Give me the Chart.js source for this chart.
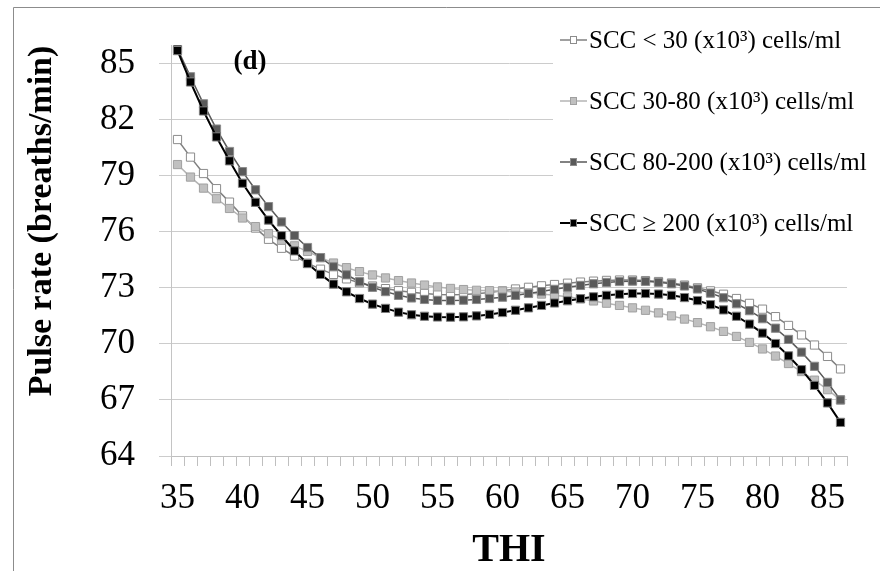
<!DOCTYPE html>
<html>
<head>
<meta charset="utf-8">
<script src="https://cdn.jsdelivr.net/npm/chart.js@4.4.1/dist/chart.umd.min.js"></script>
<style>
  html, body { margin: 0; padding: 0; background: #fff; }
  #wrap { position: relative; width: 880px; height: 571px; }
</style>
</head>
<body>
<div id="wrap"><canvas id="chart" width="880" height="571"></canvas></div>
<script>
const thi = [35, 36, 37, 38, 39, 40, 41, 42, 43, 44, 45, 46, 47, 48, 49, 50, 51, 52, 53, 54, 55, 56, 57, 58, 59, 60,
    61, 62, 63, 64, 65, 66, 67, 68, 69, 70, 71, 72, 73, 74, 75, 76, 77, 78, 79, 80, 81, 82, 83, 84, 85, 86];

const sccUnder30 = [80.94, 80.0, 79.12, 78.31, 77.59, 76.85, 76.2, 75.6, 75.12, 74.7, 74.32, 74.0, 73.72, 73.48, 73.27, 73.1,
    72.96, 72.85, 72.76, 72.7, 72.65, 72.63, 72.64, 72.68, 72.75, 72.84, 72.94, 73.03, 73.11, 73.18, 73.25, 73.31,
    73.36, 73.4, 73.42, 73.42, 73.39, 73.34, 73.26, 73.15, 73.0, 72.84, 72.66, 72.43, 72.17, 71.86, 71.46, 70.99,
    70.48, 69.94, 69.33, 68.66];
const scc30to80 = [79.6, 78.93, 78.34, 77.77, 77.25, 76.74, 76.28, 75.9, 75.55, 75.25, 74.95, 74.62, 74.33, 74.08, 73.87, 73.69,
    73.53, 73.39, 73.26, 73.15, 73.05, 72.97, 72.91, 72.87, 72.85, 72.82, 72.78, 72.73, 72.67, 72.6, 72.52, 72.42,
    72.3, 72.18, 72.06, 71.93, 71.8, 71.66, 71.5, 71.33, 71.14, 70.92, 70.67, 70.4, 70.08, 69.73, 69.35, 68.95,
    68.52, 68.06, 67.55, 67.0];
const scc80to200 = [85.8, 84.3, 82.85, 81.5, 80.3, 79.22, 78.25, 77.35, 76.53, 75.8, 75.16, 74.62, 74.13, 73.7, 73.33, 73.03,
    72.8, 72.6, 72.46, 72.38, 72.33, 72.32, 72.34, 72.38, 72.43, 72.5, 72.6, 72.7, 72.8, 72.92, 73.03, 73.13,
    73.22, 73.29, 73.34, 73.36, 73.35, 73.3, 73.22, 73.1, 72.94, 72.72, 72.47, 72.15, 71.78, 71.35, 70.84, 70.24,
    69.56, 68.8, 67.94, 67.0];
const sccOver200 = [85.7, 84.02, 82.47, 81.08, 79.8, 78.6, 77.58, 76.63, 75.79, 74.98, 74.3, 73.72, 73.2, 72.79, 72.43, 72.13,
    71.9, 71.7, 71.56, 71.48, 71.44, 71.43, 71.45, 71.5, 71.58, 71.68, 71.8, 71.93, 72.06, 72.19, 72.31, 72.42,
    72.52, 72.6, 72.66, 72.7, 72.7, 72.67, 72.6, 72.48, 72.32, 72.1, 71.82, 71.48, 71.06, 70.58, 70.02, 69.36,
    68.62, 67.78, 66.84, 65.8];

const seriesNames = [
    'SCC < 30 (x10\u00B3) cells/ml',
    'SCC 30-80 (x10\u00B3) cells/ml',
    'SCC 80-200 (x10\u00B3) cells/ml',
    'SCC \u2265 200 (x10\u00B3) cells/ml'
];
const yTicks = [64, 67, 70, 73, 76, 79, 82, 85];
const xLabelStep = 5;

const serif = '"Liberation Serif", "Times New Roman", serif';

function makeSeries(label, data, line, fill, border, width, order) {
    return {
        label: label,
        data: data,
        borderColor: line,
        borderWidth: width,
        backgroundColor: fill,
        pointStyle: 'rect',
        pointRadius: 5.8,
        pointBackgroundColor: fill,
        pointBorderColor: border,
        pointBorderWidth: 1,
        tension: 0,
        order: order
    };
}

// frame, y title, panel tag and the legend box
const decorPlugin = {
    id: 'decor',
    beforeDraw(chart) {
        const ctx = chart.ctx;
        ctx.save();
        ctx.fillStyle = '#fff';
        ctx.fillRect(0, 0, chart.width, chart.height);
        ctx.strokeStyle = '#8c8c8c';
        ctx.lineWidth = 1;
        ctx.beginPath();
        ctx.moveTo(13.5, chart.height);
        ctx.lineTo(13.5, 7.5);
        ctx.lineTo(chart.width, 7.5);
        ctx.stroke();
        ctx.restore();
    },
    afterDraw(chart) {
        const ctx = chart.ctx;
        ctx.save();
        // y title
        ctx.translate(42, 221);
        ctx.rotate(-Math.PI / 2);
        ctx.font = 'bold 34px ' + serif;
        ctx.fillStyle = '#000';
        ctx.textAlign = 'center';
        ctx.textBaseline = 'middle';
        ctx.fillText('Pulse rate (breaths/min)', 0, 0);
        ctx.restore();

        ctx.save();
        ctx.font = 'bold 27px ' + serif;
        ctx.fillStyle = '#000';
        ctx.textAlign = 'center';
        ctx.textBaseline = 'middle';
        ctx.fillText('(d)', 250, 62);

        // legend
        const area = chart.chartArea;
        ctx.fillStyle = '#fff';
        ctx.fillRect(553, area.top, area.right - 553 + 1, 250 - area.top);
        chart.data.datasets.forEach((ds, i) => {
            const y = 40 + i * 61;
            ctx.strokeStyle = ds.borderColor;
            ctx.lineWidth = ds.borderWidth;
            ctx.beginPath();
            ctx.moveTo(560, y);
            ctx.lineTo(587, y);
            ctx.stroke();
            ctx.fillStyle = ds.pointBackgroundColor;
            ctx.fillRect(570, y - 3.5, 7, 7);
            ctx.strokeStyle = ds.pointBorderColor;
            ctx.lineWidth = 1;
            ctx.strokeRect(570.5, y - 3.5, 6, 7);
            ctx.fillStyle = '#000';
            ctx.font = '25px ' + serif;
            ctx.textAlign = 'left';
            ctx.textBaseline = 'middle';
            ctx.fillText(ds.label, 589, y + 1);
        });
        ctx.restore();
    }
};

const chart = new Chart(document.getElementById('chart'), {
    type: 'line',
    data: {
        labels: thi,
        datasets: [
            makeSeries(seriesNames[0], sccUnder30, '#808080', '#ffffff', '#8c8c8c', 1.5, 4),
            makeSeries(seriesNames[1], scc30to80, '#b4b4b4', '#c0c0c0', '#a0a0a0', 1.5, 3),
            makeSeries(seriesNames[2], scc80to200, '#595959', '#5a5a5a', '#8c8c8c', 1.5, 2),
            makeSeries(seriesNames[3], sccOver200, '#000000', '#000000', '#7f7f7f', 2, 1)
        ]
    },
    options: {
        responsive: false,
        animation: false,
        devicePixelRatio: 1,
        layout: { padding: { left: 0, right: 33, top: 29, bottom: 0 } },
        plugins: {
            legend: { display: false },
            tooltip: { enabled: false }
        },
        scales: {
            x: {
                type: 'category',
                offset: true,
                afterFit(scale) { scale.height = 115; },
                grid: {
                    offset: true,
                    drawOnChartArea: false,
                    drawTicks: true,
                    tickLength: 10,
                    color: '#bfbfbf'
                },
                border: { color: '#bfbfbf' },
                ticks: {
                    autoSkip: false,
                    maxRotation: 0,
                    padding: 12,
                    color: '#000',
                    font: { family: serif, size: 35 },
                    callback(value) {
                        const t = thi[value];
                        return t % xLabelStep === 0 ? String(t) : '';
                    }
                },
                title: {
                    display: true,
                    text: 'THI',
                    color: '#000',
                    font: { family: serif, size: 40, weight: 'bold', lineHeight: 1 },
                    padding: { top: 0, bottom: 0 }
                }
            },
            y: {
                min: 64,
                max: 86,
                afterFit(scale) { scale.width = 171; },
                afterBuildTicks(scale) {
                    scale.ticks = yTicks.map(v => ({ value: v }));
                },
                grid: {
                    color: '#cccccc',
                    tickLength: 12,
                    drawTicks: true
                },
                border: { color: '#c4c4c4' },
                ticks: {
                    padding: 24,
                    color: '#000',
                    font: { family: serif, size: 35 }
                }
            }
        }
    },
    plugins: [decorPlugin]
});
</script>
</body>
</html>
